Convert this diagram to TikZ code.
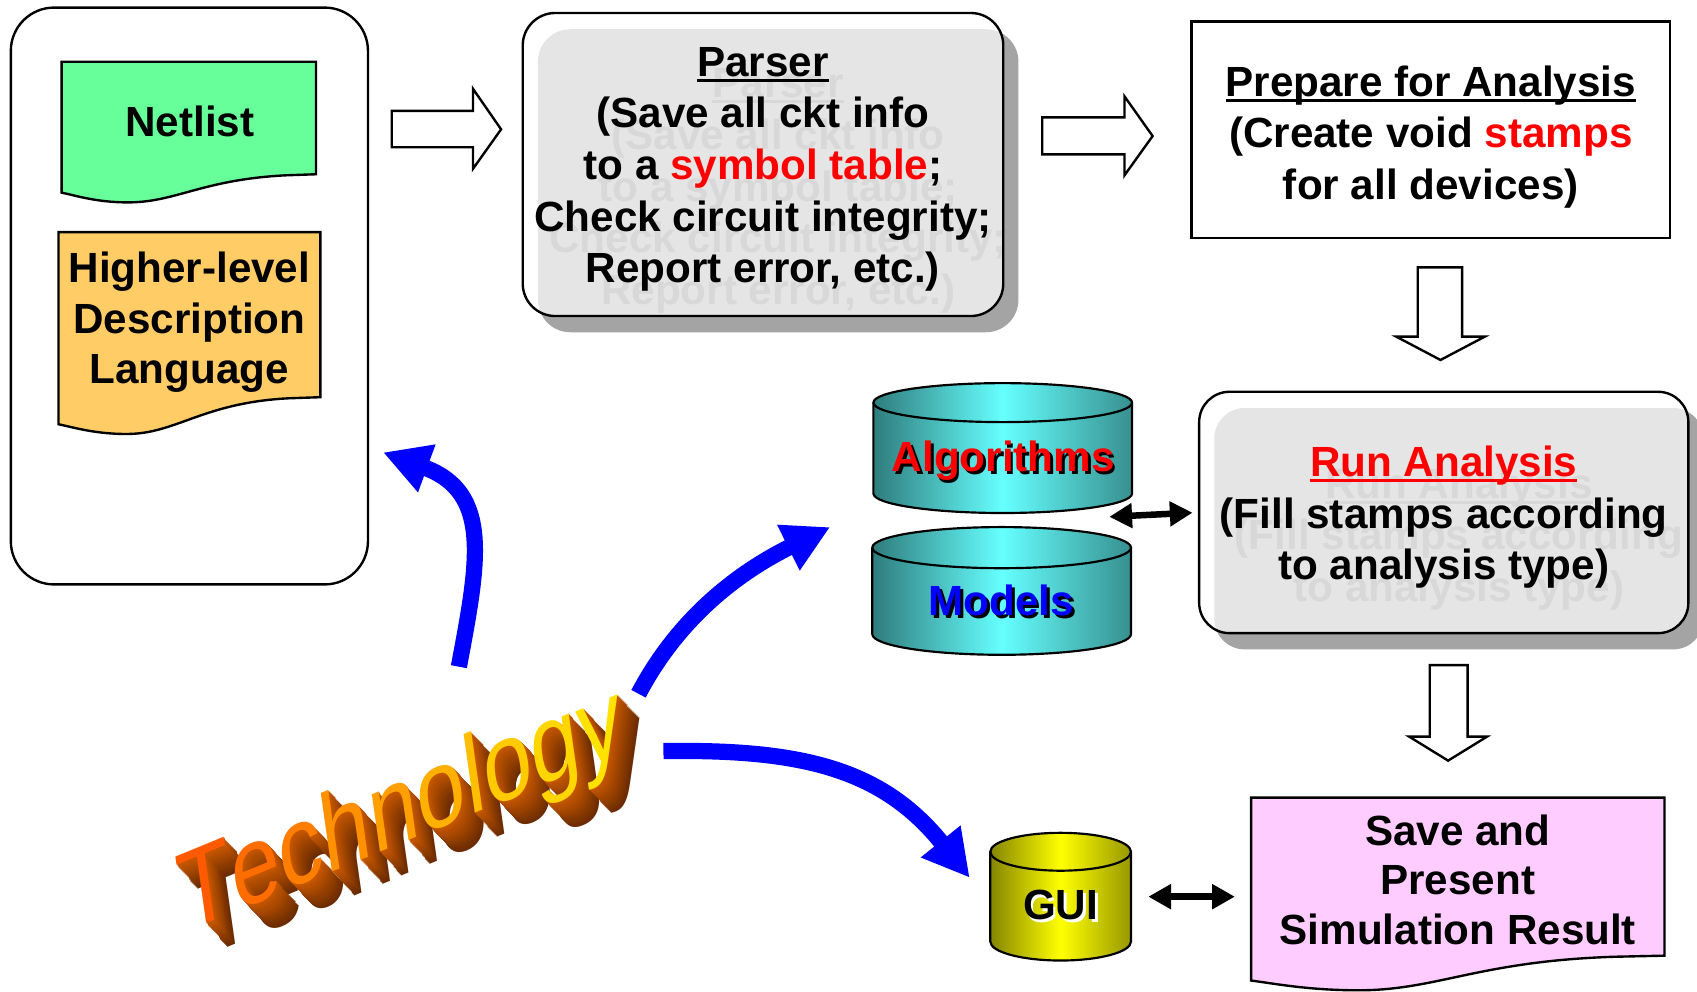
\documentclass[tikz,border=0pt]{standalone}
\usepackage{fontspec}
\setmainfont{Liberation Sans}
\newfontfamily\techfamily[Kerning=Off]{Liberation Sans}
\usetikzlibrary{arrows.meta,shadows,calc}

\definecolor{netgreen}{HTML}{66FF99}
\definecolor{hdlorange}{HTML}{FFCC66}
\definecolor{savepink}{HTML}{FFCCFF}
\definecolor{shadowgray}{HTML}{A4A4A4}
\definecolor{ghostgray}{HTML}{D8D8D8}
\definecolor{tealdark}{HTML}{2F7C7C}
\definecolor{cyanlight}{HTML}{66FFFF}
\definecolor{olivedark}{HTML}{858500}
\definecolor{yellowlight}{HTML}{FFFF00}
\definecolor{arrowblue}{HTML}{0000FF}
\definecolor{techside}{HTML}{C45600}
\definecolor{techback}{HTML}{6A2B00}
\definecolor{techA}{HTML}{FF5A00}
\definecolor{techB}{HTML}{FF6C00}
\definecolor{techC}{HTML}{FF7E00}
\definecolor{techD}{HTML}{FF9000}
\definecolor{techE}{HTML}{FFA000}
\definecolor{techF}{HTML}{FFB000}
\definecolor{techG}{HTML}{FFBE00}
\definecolor{techH}{HTML}{FFCA00}
\definecolor{techI}{HTML}{FFD600}
\definecolor{techJ}{HTML}{FFE200}

% heading underline sitting just below the baseline
\newcommand\ulbox[1]{\setbox0=\hbox{#1}\rlap{\rule[-5pt]{\wd0}{2.6pt}}\box0}

% document shape: left x, right x, top y, right bottom y, left bottom y, fill
\newcommand\drawdoc[6]{%
  \filldraw[fill=#6, draw=black, line width=2.2pt]
   (#1,#3) -- (#2,#3) -- (#2,#4) -- ({#2-0.12*(#2-#1)},{#4+1})
   .. controls ({#1+0.55*(#2-#1)},{#4+5}) and ({#1+0.45*(#2-#1)},{#5+9}) .. ({#1+0.26*(#2-#1)},{#5+9})
   .. controls ({#1+0.14*(#2-#1)},{#5+9}) and ({#1+0.06*(#2-#1)},{#5+3}) .. (#1,#5) -- cycle;}

% shaded cylinder: left x, right x, top centre y, bottom centre y, y radius, edge colour, centre colour
\newcommand\drawcyl[7]{%
  \pgfmathsetmacro\cylrx{(#2-#1)/2}%
  \shade[left color=#6, right color=#6!85!#7, middle color=#7]
    (#1,#3) -- (#1,#4) arc[start angle=180, end angle=0, x radius=\cylrx, y radius=#5]
    -- (#2,#3) arc[start angle=0, end angle=-180, x radius=\cylrx, y radius=#5] -- cycle;
  \draw[line width=2pt]
    (#1,#3) -- (#1,#4) arc[start angle=180, end angle=0, x radius=\cylrx, y radius=#5]
    -- (#2,#3) arc[start angle=0, end angle=-180, x radius=\cylrx, y radius=#5] -- cycle;
  \draw[line width=2pt] (#1,#3) arc[start angle=180, end angle=0, x radius=\cylrx, y radius=#5];}

\tikzset{
  lbl/.style={align=center, inner sep=0pt, font=\fontsize{39}{47.5}\selectfont\bfseries},
  glassbox/.style={draw, line width=2.2pt, fill=white, fill opacity=0.72, rounded corners=#1,
    drop shadow={shadow xshift=14pt, shadow yshift=-15pt, fill=shadowgray, opacity=1}},
  plainbox/.style={draw, line width=2.2pt, fill=white},
  blockarrow/.style={draw=black, line width=2.2pt, fill=white},
  cylarea/.style={inner sep=0pt, outer sep=0pt},
  dblarrow/.style={line width=6pt, {Triangle[length=21pt,width=22pt]}-{Triangle[length=21pt,width=22pt]}},
  techarrow/.style={line width=15pt, draw=arrowblue, -{Triangle[length=43pt,width=44pt]}},
  techfont/.style={inner sep=0pt, anchor=base west, transform shape,
    cm={1,0.41,-0.18,1.27,(0,0)}, font=\techfamily\fontsize{79}{79}\selectfont},
}

\begin{document}
\begin{tikzpicture}[x=1pt, y=-1pt]
\useasboundingbox (0,0) rectangle (1568,916);
\fill[white] (0,0) rectangle (1568,916);

% ---------- input sources ----------
\node[plainbox, rounded corners=40pt, minimum width=330pt, minimum height=533pt] (srcbox) at (175,273.5) {};
\drawdoc{57}{292}{57}{161}{178}{netgreen}
\node[lbl] (netlist) at (175.5,112) {Netlist};
\drawdoc{54}{296}{214.5}{367}{392}{hdlorange}
\node[lbl, font=\fontsize{39}{46.75}\selectfont\bfseries] (hdl) at (175,298) {Higher-level\\Description\\Language};

% ---------- parser ----------
\node[glassbox=30pt, minimum width=444pt, minimum height=280pt] (parser) at (705,152) {};
\node[lbl, text=ghostgray, font=\fontsize{39}{47.75}\selectfont\bfseries] (parserghost) at (719,176.5)
  {\ulbox{Parser}\\(Save all ckt info\\to a symbol table;\\Check circuit integrity;\\Report error, etc.)};
\node[lbl, font=\fontsize{39}{47.75}\selectfont\bfseries] (parsertext) at (705,156.5)
  {\ulbox{Parser}\\(Save all ckt info\\to a \textcolor{red}{symbol table};\\Check circuit integrity;\\Report error, etc.)};

% ---------- prepare ----------
\node[plainbox, minimum width=442pt, minimum height=200pt] (prep) at (1322,120) {};
\node[lbl] (preptext) at (1322,126.5)
  {\ulbox{Prepare for Analysis}\\(Create void \textcolor{red}{stamps}\\for all devices)};

% ---------- hollow block arrows ----------
\filldraw[blockarrow] (362,102.5) -- (437,102.5) -- (437,82) -- (463,119.5) -- (437,156) -- (437,136) -- (362,136) -- cycle;
\filldraw[blockarrow] (963,108.5) -- (1039,108.5) -- (1039,89) -- (1065,125.7) -- (1039,162) -- (1039,142.6) -- (963,142.6) -- cycle;
\filldraw[blockarrow] (1310,247) -- (1351,247) -- (1351,311) -- (1372,311) -- (1331,332.6) -- (1290,311) -- (1310,311) -- cycle;
\filldraw[blockarrow] (1321,614.5) -- (1356,614.5) -- (1356,680.6) -- (1374,680.6) -- (1338,702.8) -- (1302,680.6) -- (1321,680.6) -- cycle;

% ---------- data stores ----------
\node[cylarea, minimum width=239pt, minimum height=121pt] (algos) at (926.5,414) {};
\drawcyl{807}{1046}{372}{456}{18}{tealdark}{cyanlight}
\node[lbl, text=black] (algosshadow) at (929.5,428.5) {Algorithms};
\node[lbl, text=red] (algoslabel) at (927,426) {Algorithms};

\node[cylarea, minimum width=239pt, minimum height=118pt] (models) at (925.5,546) {};
\drawcyl{806}{1045}{506}{586}{19}{tealdark}{cyanlight}
\node[lbl, text=black] (modelsshadow) at (927.5,557.5) {Models};
\node[lbl, text=blue] (modelslabel) at (925,555) {Models};

\node[cylarea, minimum width=130pt, minimum height=118pt] (gui) at (980,828.5) {};
\drawcyl{915}{1045}{787}{870}{17.5}{olivedark}{yellowlight}
\node[lbl, text=white] (guishadow) at (982.5,838.5) {GUI};
\node[lbl, text=black] (guilabel) at (980,836) {GUI};

% ---------- run analysis ----------
\node[glassbox=28pt, minimum width=452pt, minimum height=223pt] (run) at (1334,473.5) {};
\node[lbl, text=ghostgray] (runghost) at (1348,498)
  {\ulbox{Run Analysis}\\(Fill stamps according\\to analysis type)};
\node[lbl] (runtext) at (1334,478)
  {\textcolor{red}{\ulbox{Run Analysis}}\\(Fill stamps according\\to analysis type)};

% ---------- results ----------
\drawdoc{1156}{1538}{737}{883}{906}{savepink}
\node[lbl, font=\fontsize{39}{45.5}\selectfont\bfseries] (save) at (1347,813) {Save and\\Present\\Simulation Result};
\coordinate (saveleft) at (1156,830);

% ---------- two-way links ----------
\coordinate (storegap) at (1025,477.5);
\draw[dblarrow, shorten >=5pt] (storegap) -- (run.west);
\draw[dblarrow, shorten <=16pt, shorten >=15pt] (gui.east) -- (gui.east -| saveleft);

% ---------- extruded word ----------
\foreach \k in {22,...,1}{
  \pgfmathtruncatemacro\mixv{100*(\k-1)/21}
  \begin{scope}[shift={({170+0.91*\k},{862+1.0*\k})}]
    \node[techfont, text=techback!\mixv!techside] (techdepth\k) at (0,0) {Technology};
  \end{scope}
}
\begin{scope}[shift={(170,862)}]
  \node[techfont] (tech) at (0,0) {\textcolor{techA}{T}\textcolor{techB}{e}\textcolor{techC}{c}\textcolor{techD}{h}\textcolor{techE}{n}\textcolor{techF}{o}\textcolor{techG}{l}\textcolor{techH}{o}\textcolor{techI}{g}\textcolor{techJ}{y}};
\end{scope}

% ---------- influence arrows ----------
\coordinate (tailA) at (424,616);
\coordinate (tipA) at (354,418);
\draw[techarrow] (tailA) .. controls (442,520) and (455,455) .. (tipA);
\coordinate (tailB) at (590,641);
\coordinate (tipB) at (767,487);
\draw[techarrow] (tailB) .. controls (630,565) and (690,525) .. (tipB);
\coordinate (tailC) at (613,694);
\coordinate (tipC) at (896,811);
\draw[techarrow] (tailC) .. controls (740,692) and (815,710) .. (tipC);
\end{tikzpicture}
\end{document}
